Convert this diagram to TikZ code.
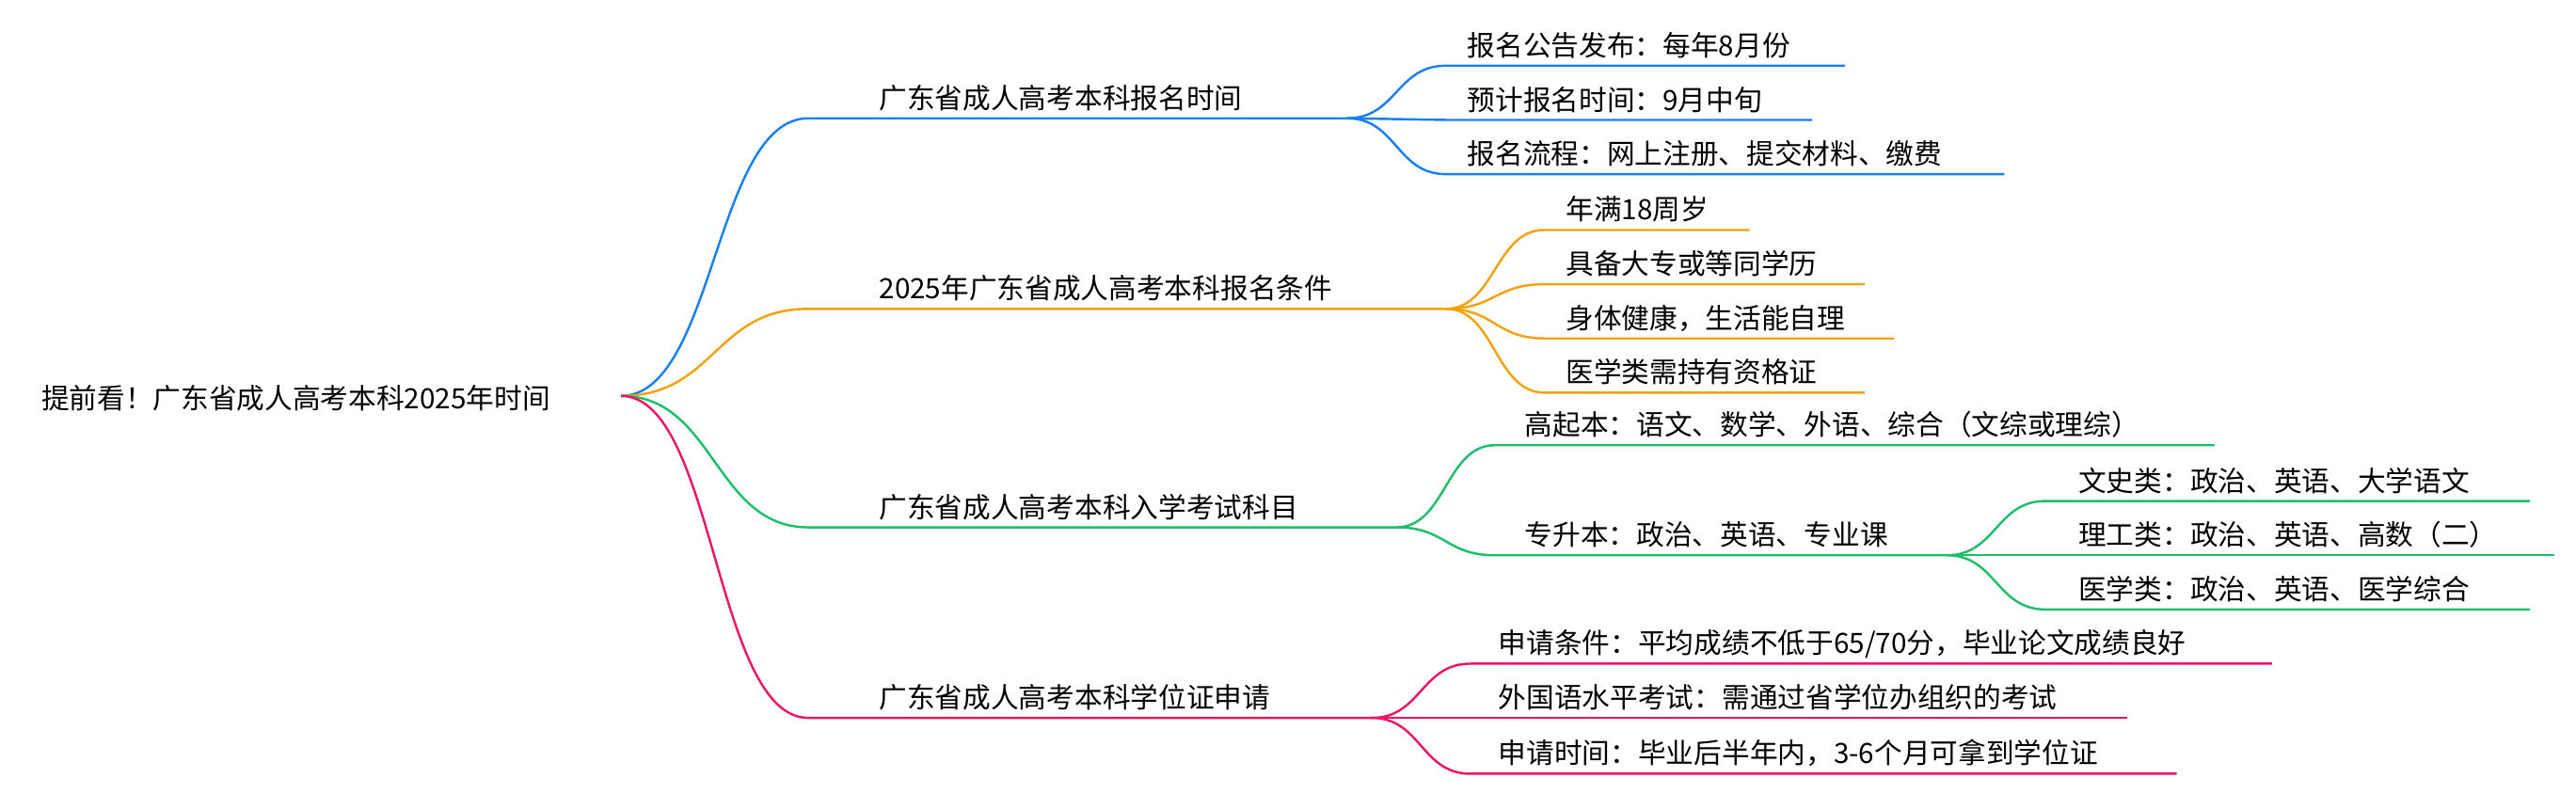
\documentclass[tikz,border=0pt]{standalone}
\usepackage{fontspec}
\setmainfont{Noto Sans CJK SC}
\definecolor{cb}{HTML}{1A7FF0}
\definecolor{co}{HTML}{F2A20C}
\definecolor{cg}{HTML}{1DBF6A}
\definecolor{cp}{HTML}{EC1667}
\tikzset{lbl/.style={anchor=base west,inner sep=0pt,font=\fontsize{17}{17}\selectfont},edge/.style={line width=1.4pt}}
\newcommand\lf[8]{%
\pgfmathsetmacro\mx{(#2+#4)/2}%
\draw[edge,#1] (#2,#3) .. controls (\mx,#3) and (\mx,#6) .. (#4,#6) -- (#5,#6);
\node[lbl] at (#7,#6-6) {#8};}
\begin{document}
\begin{tikzpicture}[x=1pt,y=-1pt]
\useasboundingbox (0,0) rectangle (1568,483);
\node[lbl] (root) at (25,249) {提前看！广东省成人高考本科2025年时间};
% blue
\lf{cb}{378}{241}{492}{820}{72}{535}{广东省成人高考本科报名时间}
\lf{cb}{820}{72}{880}{1123}{40}{893}{报名公告发布：每年8月份}
\lf{cb}{820}{72}{880}{1103}{73}{893}{预计报名时间：9月中旬}
\lf{cb}{820}{72}{880}{1220}{106}{893}{报名流程：网上注册、提交材料、缴费}
% orange
\lf{co}{378}{241}{492}{880}{188}{535}{2025年广东省成人高考本科报名条件}
\lf{co}{880}{188}{940}{1065}{140}{953}{年满18周岁}
\lf{co}{880}{188}{940}{1135}{173}{953}{具备大专或等同学历}
\lf{co}{880}{188}{940}{1153}{206}{953}{身体健康，生活能自理}
\lf{co}{880}{188}{940}{1135}{239}{953}{医学类需持有资格证}
% green
\lf{cg}{378}{241}{492}{850}{321}{535}{广东省成人高考本科入学考试科目}
\lf{cg}{850}{321}{910}{1348}{271}{928}{高起本：语文、数学、外语、综合（文综或理综）}
\lf{cg}{850}{321}{910}{1185}{338}{928}{专升本：政治、英语、专业课}
\lf{cg}{1185}{338}{1245}{1540}{305}{1265}{文史类：政治、英语、大学语文}
\lf{cg}{1185}{338}{1245}{1555}{338}{1265}{理工类：政治、英语、高数（二）}
\lf{cg}{1185}{338}{1245}{1540}{371}{1265}{医学类：政治、英语、医学综合}
% pink
\lf{cp}{378}{241}{492}{835}{437}{535}{广东省成人高考本科学位证申请}
\lf{cp}{835}{437}{895}{1383}{404}{912}{申请条件：平均成绩不低于65/70分，毕业论文成绩良好}
\lf{cp}{835}{437}{895}{1295}{437}{912}{外国语水平考试：需通过省学位办组织的考试}
\lf{cp}{835}{437}{895}{1325}{471}{912}{申请时间：毕业后半年内，3-6个月可拿到学位证}
\end{tikzpicture}
\end{document}
